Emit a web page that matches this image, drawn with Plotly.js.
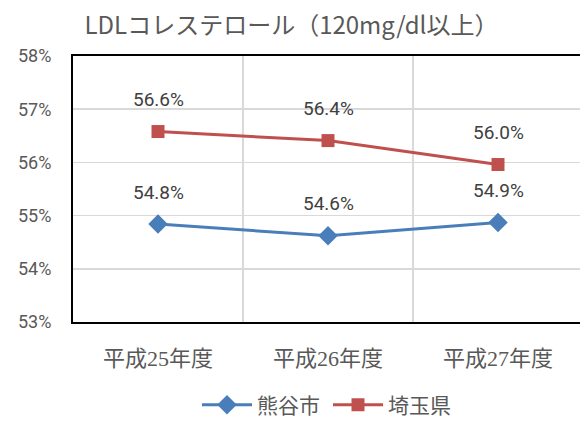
<!DOCTYPE html>
<html><head><meta charset="utf-8">
<script src="https://cdn.plot.ly/plotly-3.0.1.min.js"></script>
<style>html,body{margin:0;padding:0;overflow:hidden;background:#fff}#chart{width:583px;height:421px}</style>
</head><body><div id="chart"></div>
<script>
const categories = ['平成25年度', '平成26年度', '平成27年度'];
const kumagaya = [54.84, 54.62, 54.87];
const saitama = [56.58, 56.41, 55.96];
const seriesNames = ['熊谷市', '埼玉県'];
const yTicks = [53, 54, 55, 56, 57, 58];

const labelFont = {family: 'Roboto, Arial, sans-serif', size: 19, color: '#404040'};
const traces = [
  {x: categories, y: kumagaya, name: seriesNames[0], type: 'scatter', mode: 'lines+markers',
   line: {color: '#4a7ebb', width: 3}, marker: {symbol: 'diamond', size: 15, color: '#4a7ebb'}},
  {x: categories, y: saitama, name: seriesNames[1], type: 'scatter', mode: 'lines+markers',
   line: {color: '#c0504d', width: 3}, marker: {symbol: 'square', size: 13, color: '#c0504d'}}
];
const annotations = [];
[kumagaya, saitama].forEach(arr => arr.forEach((v, i) => {
  annotations.push({x: categories[i], y: v, xref: 'x', yref: 'y', text: v.toFixed(1) + '%',
    showarrow: false, yshift: 32, font: labelFont});
}));

const layout = {
  width: 583, height: 421,
  margin: {l: 73, r: 0, t: 56, b: 99, autoexpand: false},
  paper_bgcolor: '#fff', plot_bgcolor: '#fff',
  title: {text: 'LDLコレステロール（120mg/dl以上）', x: 0.5, xref: 'container', y: 0.94, yanchor: 'middle',
    font: {family: 'Noto Sans CJK JP, sans-serif', size: 24, color: '#595959'}},
  xaxis: {type: 'category', range: [-0.5, 2.5], tickson: 'boundaries', showgrid: true, gridcolor: '#d9d9d9', gridwidth: 1.5,
    showline: true, linecolor: '#000', linewidth: 2, mirror: true, ticks: '', ticklabelstandoff: 16,
    tickfont: {family: 'Liberation Serif, DejaVu Serif, Noto Sans CJK JP, serif', size: 22, color: '#595959'}, zeroline: false},
  yaxis: {range: [53, 58], tickvals: yTicks, ticktext: yTicks.map(v => v + '%'), showgrid: true, gridcolor: '#d9d9d9', gridwidth: 1.5,
    showline: true, linecolor: '#000', linewidth: 2, mirror: true, ticks: '', ticklabelstandoff: 16, zeroline: false,
    tickfont: {family: 'Roboto, Arial, sans-serif', size: 18, color: '#595959'}},
  showlegend: true,
  legend: {orientation: 'h', x: 0.5, xanchor: 'center', y: -0.235, yanchor: 'top', entrywidth: 66, itemwidth: 50,
    font: {family: 'Liberation Serif, Noto Sans CJK JP, serif', size: 21, color: '#595959'}},
  annotations: annotations
};
Plotly.newPlot('chart', traces, layout, {displayModeBar: false, staticPlot: true});
</script></body></html>
